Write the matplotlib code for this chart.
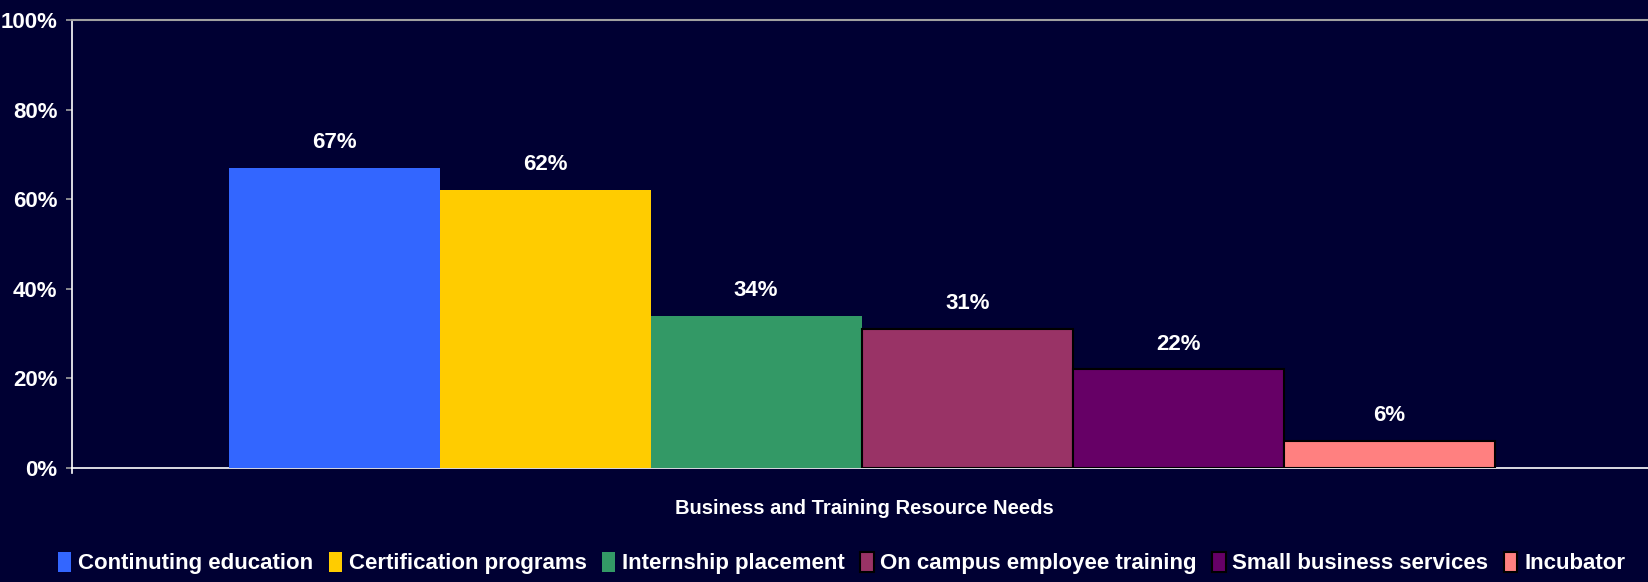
import matplotlib.pyplot as plt

# data
categories = ['Continuting education', 'Certification programs', 'Internship placement',
              'On campus employee training', 'Small business services', 'Incubator']
values = [67, 62, 34, 31, 22, 6]
colors = ['#3366ff', '#ffcc00', '#339966', '#993366', '#660066', '#ff8080']
edged = [False, False, False, True, True, True]
yticks = [0, 20, 40, 60, 80, 100]
xlabel = 'Business and Training Resource Needs'

plt.rcParams['font.family'] = ['Liberation Sans', 'DejaVu Sans']
plt.rcParams['font.weight'] = 'bold'

bg = '#000033'
fig = plt.figure(figsize=(16.48, 5.82), dpi=100, facecolor=bg)
ax = fig.add_axes([72/1648, 1 - 468/582, (1652 - 72)/1648, 448/582], facecolor=bg)

x = [i - 2.5 for i in range(len(values))]
bars = []
for xi, v, c, e, lab in zip(x, values, colors, edged, categories):
    b = ax.bar(xi, v, width=1.0, color=c, edgecolor='black' if e else c,
               linewidth=1.5 if e else 0, label=lab, zorder=3)
    bars.append(b)
    ax.text(xi, v + 3.3, '{}%'.format(v), ha='center', va='bottom', color='white',
            fontsize=16, fontweight='bold')

ax.set_xlim(-3.742, 3.745)
ax.set_ylim(0, 100)
ax.set_yticks(yticks)
ax.set_yticklabels(['{}%'.format(t) for t in yticks], fontsize=16, fontweight='bold', color='white')
ax.tick_params(axis='y', direction='out', length=4.5, width=1.2, color='#a0a0a0', pad=6)
ax.set_xticks([])
for s in ['left', 'bottom']:
    ax.spines[s].set_color('white')
    ax.spines[s].set_linewidth(1.2)
ax.spines['top'].set_color('#a0a0a0')
ax.spines['top'].set_linewidth(1.5)
ax.spines['right'].set_visible(False)
# small stub of the value axis below zero
ax.plot([0, 0], [0, -0.012], transform=ax.transAxes, clip_on=False, color='white', lw=1.2)

fig.text(864/1648, 1 - 508/582, xlabel, ha='center', va='center', color='white',
         fontsize=14.5, fontweight='bold')

leg = fig.legend(handles=bars, labels=categories, loc='center left', ncol=6,
                 bbox_to_anchor=(58/1648, 1 - 563/582), frameon=False,
                 fontsize=16, handlelength=0.6, handleheight=1.0, handletextpad=0.3,
                 columnspacing=0.7, borderaxespad=0, borderpad=0)
for t in leg.get_texts():
    t.set_color('white')

fig.savefig('out.png', dpi=100, facecolor=bg)
